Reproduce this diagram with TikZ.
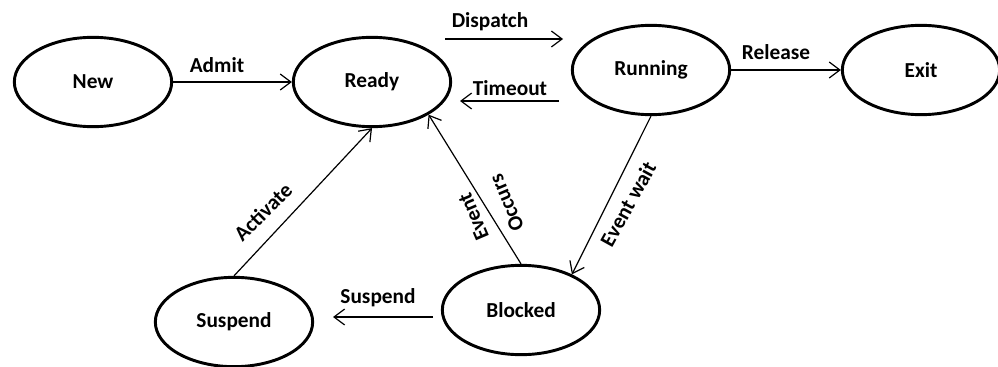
\documentclass[tikz,border=0pt]{standalone}
\usepackage{fontspec}
\setmainfont{Carlito}
\usetikzlibrary{arrows.meta,shapes.geometric}
\begin{document}
\begin{tikzpicture}[x=0.75pt,y=-0.75pt,
  state/.style={ellipse, draw, line width=2.2pt, minimum width=118pt, minimum height=67pt, inner sep=0pt, font=\fontsize{16}{19}\selectfont\bfseries},
  conn/.style={line width=0.9pt, -{Straight Barb[length=8pt,width=12pt]}},
  lab/.style={font=\fontsize{16}{19}\selectfont\bfseries, inner sep=0pt}]
\useasboundingbox (0,0) rectangle (998,367);
\node[state] (new) at (93,82) {New};
\node[state] (ready) at (372,82) {Ready};
\node[state] (running) at (651,70) {Running};
\node[state] (exit) at (921,70) {Exit};
\node[state] (suspend) at (234,322) {Suspend};
\node[state] (blocked) at (521,310) {Blocked};
\coordinate (d1) at (445,39); \coordinate (d2) at (563,39);
\coordinate (t1) at (559,101); \coordinate (t2) at (460,101);
\coordinate (s1) at (433,317); \coordinate (s2) at (333,317);
\draw[conn] (new) -- (ready);
\draw[conn] (d1) -- (d2);
\draw[conn] (t1) -- (t2);
\draw[conn] (running) -- (exit);
\draw[conn] (suspend.north) -- (ready.south);
\draw[conn] (blocked.north) -- (ready.-30);
\draw[conn] (running.south) -- (blocked.35);
\draw[conn] (s1) -- (s2);
\node[lab] (ladmit) at (217,65) {Admit};
\node[lab] (ldispatch) at (490,22) {Dispatch};
\node[lab] (ltimeout) at (510,88) {Timeout};
\node[lab] (lrelease) at (776,52) {Release};
\node[lab] (lsuspend) at (378,298) {Suspend};
\node[lab, rotate=45] (lactivate) at (263,212) {Activate};
\node[lab, rotate=113, align=center] (levent) at (490,210) {Event\\[8pt]Occurs};
\node[lab, rotate=61] (lwait) at (628,204) {Event wait};
\end{tikzpicture}
\end{document}
